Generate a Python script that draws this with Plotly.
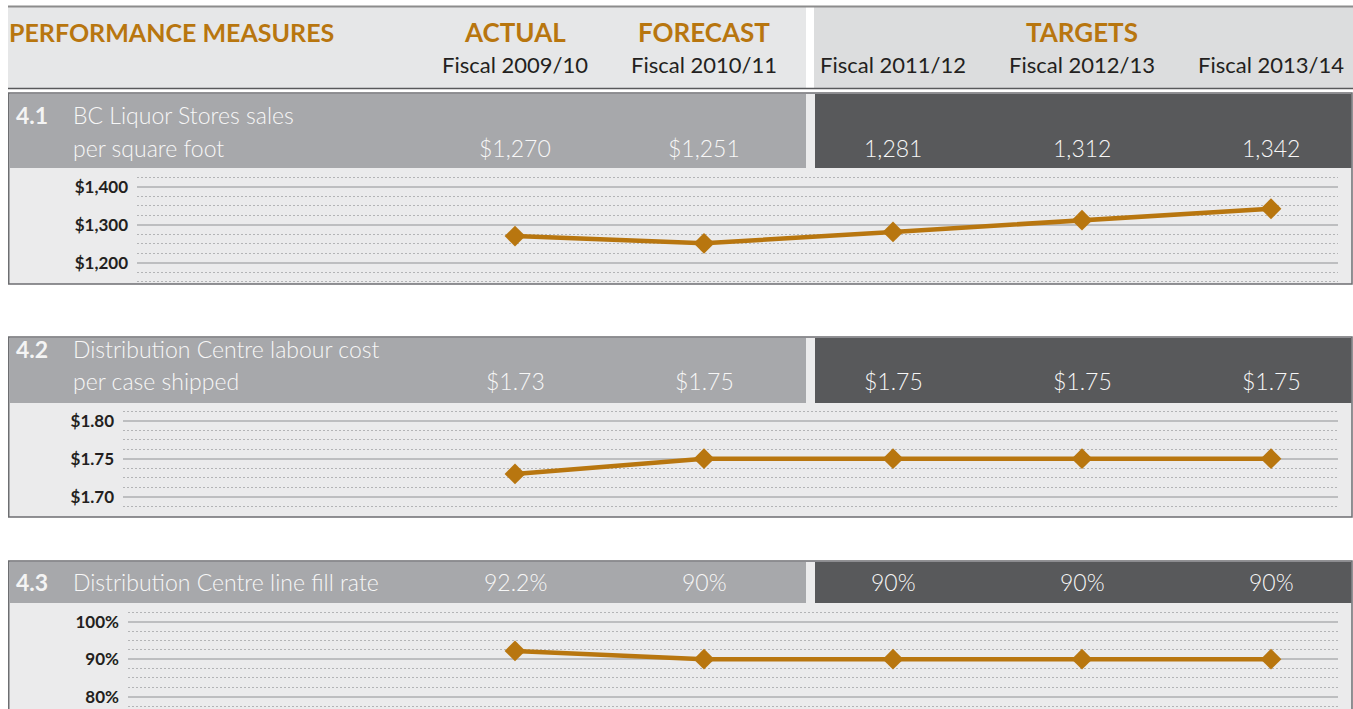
import plotly.graph_objects as go

# ---------------- data ----------------
periods = ["Fiscal 2009/10", "Fiscal 2010/11", "Fiscal 2011/12", "Fiscal 2012/13", "Fiscal 2013/14"]
period_groups = ["ACTUAL", "FORECAST", "TARGETS"]

sales_per_sqft = [1270, 1251, 1281, 1312, 1342]
sales_labels = ["$1,270", "$1,251", "1,281", "1,312", "1,342"]
sales_ticks = [1200, 1300, 1400]
sales_ticktext = ["$1,200", "$1,300", "$1,400"]

labour_cost = [1.73, 1.75, 1.75, 1.75, 1.75]
labour_labels = ["$1.73", "$1.75", "$1.75", "$1.75", "$1.75"]
labour_ticks = [1.70, 1.75, 1.80]
labour_ticktext = ["$1.70", "$1.75", "$1.80"]

fill_rate = [92.2, 90, 90, 90, 90]
fill_labels = ["92.2%", "90%", "90%", "90%", "90%"]
fill_ticks = [80, 90, 100]
fill_ticktext = ["80%", "90%", "100%"]

measures = [
    ("4.1", ["BC Liquor Stores sales", "per square foot"]),
    ("4.2", ["Distribution Centre labour cost", "per case shipped"]),
    ("4.3", ["Distribution Centre line fill rate"]),
]

# ---------------- styling ----------------
OX, OY = 0, 0
W, H = 1353, 709
GOLD = "#b8760f"
DARK = "#58595b"
MID = "#a7a8ab"
PANEL_BG = "#ebebec"
BORDER = "#6d6e71"
GRID = "#bdbec0"
TXT = "#231f20"
FONT = "Lato"

def xp(px):
    return (px - OX) / W

def yp(py):
    return 1 - (py - OY) / H

shapes = []
ann = []

def rect(x0, y0, x1, y1, fill, line=None, lw=0):
    shapes.append(dict(type="rect", xref="paper", yref="paper",
                       x0=xp(x0), x1=xp(x1), y0=yp(y1), y1=yp(y0),
                       fillcolor=fill, layer="below",
                       line=dict(color=line or fill, width=lw)))

def hline(x0, x1, y, color, w):
    shapes.append(dict(type="line", xref="paper", yref="paper",
                       x0=xp(x0), x1=xp(x1), y0=yp(y), y1=yp(y),
                       layer="below", line=dict(color=color, width=w)))

def text(x, y, s, size, color, weight=400, xanchor="left", xref="paper"):
    ann.append(dict(x=x if xref != "paper" else xp(x), y=yp(y), xref=xref, yref="paper",
                    text=s, showarrow=False, xanchor=xanchor, yanchor="middle",
                    font=dict(family=FONT, size=size, color=color, weight=weight)))

# header block
rect(8, 7, 806, 88, "#e6e7e8")
rect(814, 7, 1353, 88, "#dcddde")
hline(8, 1353, 6.5, "#8c8c8c", 2)
hline(8, 1353, 88.5, "#58595b", 1.5)

text(7, 32, "PERFORMANCE MEASURES", 25, GOLD, 700)
text(0, 32, period_groups[0], 26, GOLD, 700, "center", "x")
text(1, 32, period_groups[1], 26, GOLD, 700, "center", "x")
text(3, 32, period_groups[2], 26, GOLD, 700, "center", "x")
for i, p in enumerate(periods):
    text(i, 65, p, 22, TXT, 400, "center", "x")

# panels: (top, bar bottom, panel bottom, grid x start, top tick px, bottom tick px, text rows y)
panels = [
    (93, 168, 284, 137, 186.7, 262.7, (115, 148)),
    (337, 403, 517, 123, 420.7, 496.7, (349, 381)),
    (561, 603, 712, 128, 621.7, 696.7, (582,)),
]
series = [sales_per_sqft, labour_cost, fill_rate]
value_labels = [sales_labels, labour_labels, fill_labels]
ticks = [sales_ticks, labour_ticks, fill_ticks]
ticktexts = [sales_ticktext, labour_ticktext, fill_ticktext]

X0_PX, STEP_PX, GRID_END = 515, 189, 1338

fig = go.Figure()
layout_axes = {}
for k, (top, bbot, pbot, gx0, pt, pb, rows) in enumerate(panels):
    rect(8.75, top, 1352, pbot, PANEL_BG, BORDER, 1.5)
    rect(9.5, top + 1, 806, bbot, MID)
    rect(815, top + 1, 1351.3, bbot, DARK)
    num, lines = measures[k]
    y1, y2 = rows[0], rows[-1]
    text(14, y1, num, 23, "#f4f4f4", 700)
    text(71, y1, lines[0], 23, "#f7f7f7", 300)
    if len(lines) == 2:
        text(71, y2, lines[1], 23, "#f7f7f7", 300)
    for i, v in enumerate(value_labels[k]):
        text(i, y2, v, 23, "#f7f7f7", 300, "center", "x")

    # axes
    sfx = "" if k == 0 else str(k + 1)
    vb, vt = ticks[k][0], ticks[k][-1]
    s = (pb - pt) / (vt - vb)
    dtop, dbot = bbot + 1, min(pbot - 1, OY + H)
    yr = [vb - (dbot - pb) / s, vt + (pt - dtop) / s]
    xr = [(gx0 - X0_PX) / STEP_PX, (GRID_END - X0_PX) / STEP_PX]
    minor_dt = (ticks[k][1] - ticks[k][0]) / 4
    layout_axes["xaxis" + sfx] = dict(domain=[xp(gx0), xp(GRID_END)], range=xr,
                                      anchor="y" + sfx, visible=False, fixedrange=True)
    layout_axes["yaxis" + sfx] = dict(
        domain=[yp(dbot), yp(dtop)], range=yr, anchor="x" + sfx,
        tickmode="array", tickvals=ticks[k], ticktext=ticktexts[k],
        showgrid=True, gridcolor=GRID, gridwidth=2,
        zeroline=False, showline=False, ticks="", ticklabelstandoff=8,
        ticklabeloverflow="allow",
        tickfont=dict(family=FONT, size=17, color=TXT, weight=700),
        minor=dict(dtick=minor_dt, tick0=vb, showgrid=True, gridcolor="#b3b4b6",
                   griddash="1.5px,2.5px", gridwidth=1.3, ticks=""),
        fixedrange=True)

    fig.add_trace(go.Scatter(
        x=list(range(len(periods))), y=series[k], mode="lines+markers",
        xaxis="x" + sfx, yaxis="y" + sfx, cliponaxis=False,
        line=dict(color=GOLD, width=4.5),
        marker=dict(symbol="diamond", size=16, color=GOLD),
        hovertext=periods, name=num, showlegend=False))

fig.update_layout(
    width=W, height=H, margin=dict(l=0, r=0, t=0, b=0),
    paper_bgcolor="white", plot_bgcolor="rgba(0,0,0,0)",
    shapes=shapes, annotations=ann, showlegend=False,
    **layout_axes)

fig.write_html(
    "out.html",
    config={"displayModeBar": False},
    post_script="document.body.style.margin='0';document.body.style.overflow='hidden';",
)
